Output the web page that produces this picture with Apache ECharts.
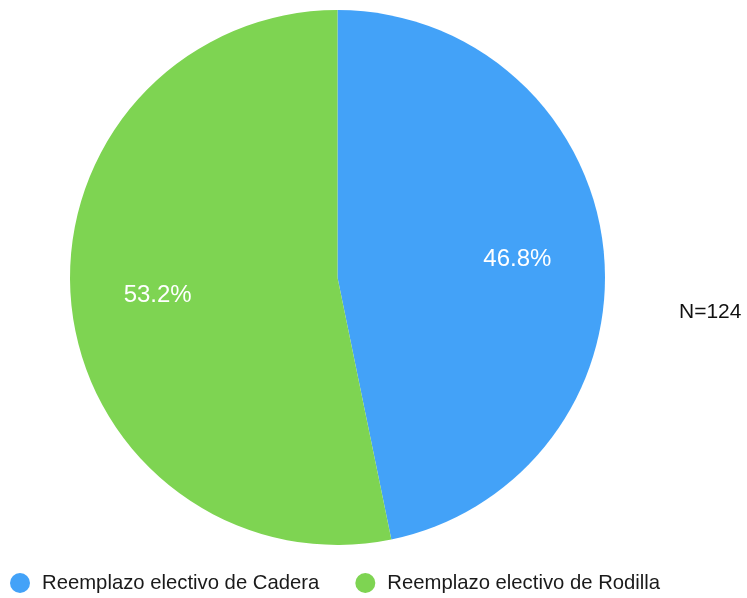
<!DOCTYPE html>
<html>
<head>
<meta charset="utf-8">
<script src="https://cdn.jsdelivr.net/npm/echarts@6/dist/echarts.min.js"></script>
<style>
html,body{margin:0;padding:0;background:#fff;}
#chart{width:747px;height:598px;}
</style>
</head>
<body>
<div id="chart"></div>
<script>
const categories = ['Reemplazo electivo de Cadera', 'Reemplazo electivo de Rodilla'];
const counts = [58, 66];
const colors = ['#43A2F8', '#7ED452'];
const noteText = 'N=124';

const total = counts.reduce((a, b) => a + b, 0);
const pieData = categories.map((name, i) => ({ name: name, value: counts[i], itemStyle: { color: colors[i] } }));

const chart = echarts.init(document.getElementById('chart'), null, { renderer: 'canvas' });
chart.setOption({
  animation: false,
  backgroundColor: '#ffffff',
  legend: {
    data: categories,
    left: 5,
    top: 568,
    icon: 'circle',
    itemWidth: 20,
    itemHeight: 20,
    itemGap: 36,
    textStyle: { fontFamily: 'Liberation Sans, Arial, sans-serif', fontSize: 20.3, color: '#1a1a1a', padding: [0, 0, 0, 7] }
  },
  graphic: [{
    type: 'text',
    left: 679,
    top: 302,
    style: { text: noteText, font: '21px "Liberation Sans", Arial, sans-serif', fill: '#111' }
  }],
  series: [
    {
      type: 'pie',
      center: [337.5, 277.5],
      radius: [0, 267.5],
      startAngle: 90,
      clockwise: true,
      label: { show: false },
      labelLine: { show: false },
      data: pieData,
      silent: true
    },
    {
      type: 'pie',
      center: [337.5, 277.5],
      radius: [88, 267.5],
      startAngle: 90,
      clockwise: true,
      silent: true,
      itemStyle: { color: 'rgba(0,0,0,0)' },
      label: {
        show: true,
        position: 'inside',
        formatter: p => (p.value / total * 100).toFixed(1) + '%',
        color: '#ffffff',
        fontSize: 24,
        fontFamily: 'Liberation Sans, Arial, sans-serif'
      },
      labelLine: { show: false },
      data: categories.map((name, i) => ({ name: name, value: counts[i], itemStyle: { color: 'rgba(0,0,0,0)' } }))
    }
  ]
});
</script>
</body>
</html>
